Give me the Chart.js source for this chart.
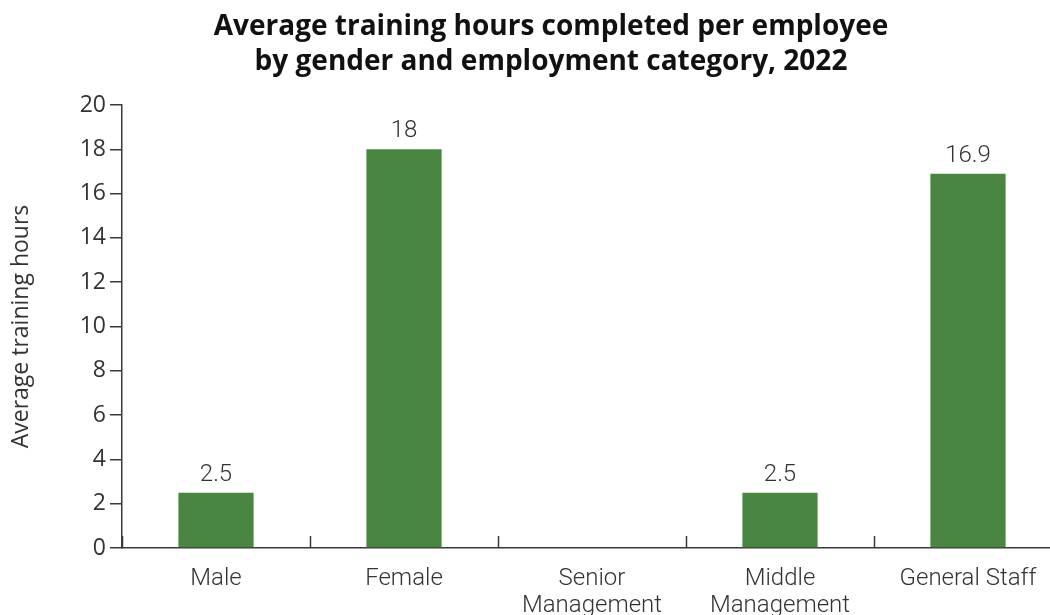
<!DOCTYPE html>
<html>
<head>
<meta charset="utf-8">
<script src="https://cdn.jsdelivr.net/npm/chart.js@4"></script>
<style>
  html, body { margin: 0; padding: 0; background: #fff; overflow: hidden; }
  #wrap { width: 1062px; height: 615px; }
</style>
</head>
<body>
<div id="wrap"><canvas id="chart" width="1062" height="615"></canvas></div>
<script>
const categories = ['Male', 'Female', ['Senior', 'Management'], ['Middle', 'Management'], 'General Staff'];
const avgHours = [2.5, 18, null, 2.5, 16.9];
const yTicks = { min: 0, max: 20, step: 2 };

const barGreen = '#488641';
const axisGrey = '#3a3a3a';

// value labels above each bar
const barValues = {
  id: 'barValues',
  afterDatasetsDraw(chart) {
    const ctx = chart.ctx;
    const meta = chart.getDatasetMeta(0);
    ctx.save();
    ctx.font = '300 24px Roboto, "Liberation Sans", sans-serif';
    ctx.fillStyle = '#333';
    ctx.textAlign = 'center';
    ctx.textBaseline = 'alphabetic';
    meta.data.forEach((bar, i) => {
      const v = chart.data.datasets[0].data[i];
      if (v === null || v === undefined) return;
      ctx.fillText(String(v), bar.x, bar.y - 12);
    });
    ctx.restore();
  }
};

// short upward ticks between categories on the x axis
const categoryTicks = {
  id: 'categoryTicks',
  afterDraw(chart) {
    const x = chart.scales.x;
    const ctx = chart.ctx;
    const half = (x.getPixelForValue(1) - x.getPixelForValue(0)) / 2;
    ctx.save();
    ctx.strokeStyle = axisGrey;
    ctx.lineWidth = 1.5;
    for (let i = 0; i <= categories.length; i++) {
      const px = Math.round(x.getPixelForValue(i) - half) + 0.5;
      ctx.beginPath();
      ctx.moveTo(px, x.top);
      ctx.lineTo(px, x.top - 12);
      ctx.stroke();
    }
    ctx.restore();
  }
};

new Chart(document.getElementById('chart'), {
  type: 'bar',
  data: {
    labels: categories,
    datasets: [{
      data: avgHours,
      backgroundColor: barGreen,
      barPercentage: 0.4,
      categoryPercentage: 1
    }]
  },
  options: {
    responsive: false,
    animation: false,
    // left padding pushes the title centre right; the y title is pulled back out with negative padding
    layout: { padding: { top: 0, right: 0, bottom: 0, left: 40 } },
    plugins: {
      legend: { display: false },
      tooltip: { enabled: false },
      title: {
        display: true,
        text: ['Average training hours completed per employee', 'by gender and employment category, 2022'],
        color: '#111',
        font: { family: '"Open Sans", sans-serif', size: 28, weight: 'bold', lineHeight: 1.25 },
        padding: { top: 10, bottom: 25 }
      }
    },
    scales: {
      x: {
        afterFit(scale) { scale.height = 67; },
        grid: { display: false, drawOnChartArea: false },
        border: { color: axisGrey, width: 1.5 },
        ticks: {
          color: '#333',
          padding: 10,
          maxRotation: 0,
          autoSkip: false,
          font: { family: 'Roboto, "Liberation Sans", sans-serif', size: 24, weight: 300, lineHeight: 1.1 }
        }
      },
      y: {
        min: yTicks.min,
        max: yTicks.max,
        afterFit(scale) { scale.width = 82; },
        grid: { drawOnChartArea: false, tickLength: 12, color: axisGrey, lineWidth: 1.5 },
        border: { color: axisGrey, width: 1.5 },
        ticks: {
          stepSize: yTicks.step,
          color: '#333',
          padding: 4,
          font: { family: '"Open Sans", sans-serif', size: 23 }
        },
        title: {
          display: true,
          text: 'Average training hours',
          color: '#333',
          padding: { top: -32, bottom: 0 },
          font: { family: '"Open Sans", sans-serif', size: 23 }
        }
      }
    }
  },
  plugins: [barValues, categoryTicks]
});
</script>
</body>
</html>
